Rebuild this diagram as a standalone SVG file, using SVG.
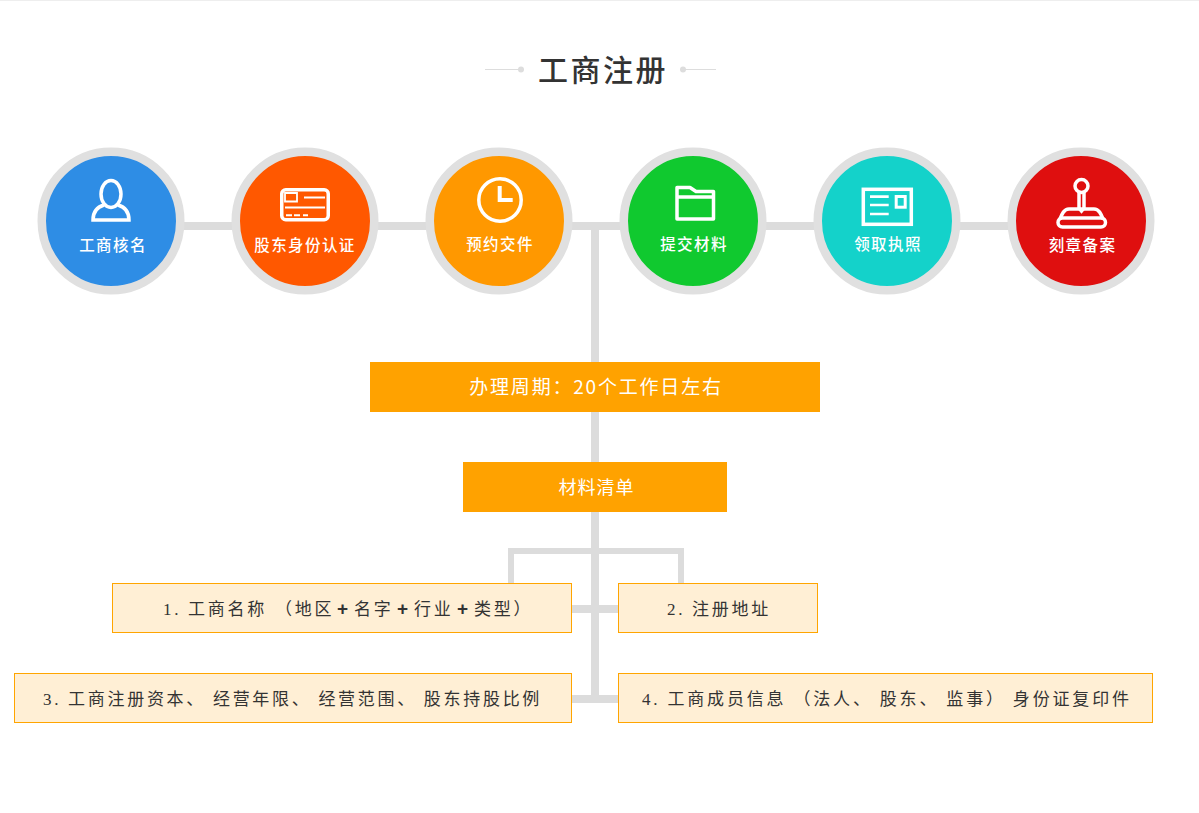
<svg xmlns="http://www.w3.org/2000/svg" width="1199" height="813" viewBox="0 0 1199 813">
<style>
text{font-family:"Noto Sans CJK SC","Liberation Sans",sans-serif}
.ring{stroke:#e0e0e0;stroke-width:8.500}
.conn{fill:#dcdcdc}
.lab{fill:#fff;font-size:15.500px;font-weight:500;letter-spacing:1.400px;text-anchor:middle}
.ic{fill:none;stroke:#fff;stroke-width:3.500}
.band{fill:#ffa200}
.bt{fill:#fff;font-size:19px;letter-spacing:1.800px;text-anchor:middle}
.item{fill:#ffefd5;stroke:#ffa500;stroke-width:1}
.it{fill:#333;font-size:17px;letter-spacing:2.700px;font-family:"Liberation Serif","Noto Sans CJK SC",serif}
.plus{font-family:"Liberation Sans",sans-serif;font-weight:700;font-size:19px}
</style>
<rect width="1199" height="1" fill="#eee"/>
<g id="title">
<path d="M485 69.500H519M681 69.500H716" stroke="#ddd" fill="none"/>
<circle cx="521" cy="69.500" r="3" fill="#ddd"/><circle cx="683" cy="69.500" r="3" fill="#ddd"/>
<text x="603" y="81" text-anchor="middle" font-size="30" font-weight="500" letter-spacing="2.500" fill="#333">工商注册</text>
</g>
<g id="connectors">
<rect class="conn" x="180" y="222" width="830" height="8"/>
<rect class="conn" x="591" y="222" width="8" height="481"/>
<path class="conn" d="M508 583V548H684V583H678V554H514V583Z"/>
<rect class="conn" x="572" y="605" width="46" height="8"/>
<rect class="conn" x="572" y="695" width="46" height="8"/>
</g>
<g id="n1"><circle class="ring" cx="111" cy="221" r="69.250" fill="#2e8de5"/>
<ellipse class="ic" cx="111" cy="194" rx="10" ry="13.500"/>
<path class="ic" d="M104 205C97 207 93 212 93 220H129C129 212 125 207 118 205"/>
<text class="lab" x="113" y="251">工商核名</text></g>
<g id="n2"><circle class="ring" cx="305" cy="221" r="69.250" fill="#ff5800"/>
<rect class="ic" x="281.750" y="189.750" width="46.500" height="30" rx="4"/>
<path d="M285 193H297V201.500H285ZM304 197.500H325M285 207.500H325" fill="none" stroke="#fff" stroke-width="1.800"/>
<path d="M286 215.300H292M294 215.300H300M303 215.300H308" fill="none" stroke="#fff" stroke-width="2"/>
<text class="lab" x="305" y="251">股东身份认证</text></g>
<g id="n3"><circle class="ring" cx="499" cy="221" r="69.250" fill="#ff9800"/>
<circle class="ic" cx="500" cy="200" r="21.200" stroke-width="4"/>
<path d="M499.700 186V200H512.700" fill="none" stroke="#fff" stroke-width="4"/>
<text class="lab" x="500" y="250">预约交件</text></g>
<g id="n4"><circle class="ring" cx="693" cy="221" r="69.250" fill="#10c92f"/>
<path class="ic" stroke-linejoin="round" d="M677 187.500H690L696 191.500H713.500V219H677ZM677 197H713.500" stroke-width="3"/>
<text class="lab" x="694" y="250">提交材料</text></g>
<g id="n5"><circle class="ring" cx="887" cy="221" r="69.250" fill="#14d2ca"/>
<rect class="ic" x="863.300" y="189.300" width="48" height="35" stroke-width="2.700"/>
<path d="M870 196.700H888.700M870 205H888.700M870 214H888.700" fill="none" stroke="#fff" stroke-width="2.700"/>
<rect x="896.200" y="196.500" width="9" height="10.700" fill="none" stroke="#fff" stroke-width="3"/>
<text class="lab" x="888" y="250">领取执照</text></g>
<g id="n6"><circle class="ring" cx="1081" cy="221" r="69.250" fill="#df0f0f"/>
<circle class="ic" cx="1081.500" cy="186" r="6.500" stroke-width="3"/>
<path class="ic" stroke-width="2.500" d="M1079 192V208L1081.500 211L1084 208V192"/>
<path class="ic" stroke-width="2.800" d="M1060 219C1062 214 1064 209 1069 209H1094C1099 209 1101 214 1103 219"/>
<rect class="ic" stroke-width="2.800" x="1058" y="218" width="47.500" height="9" rx="4.500"/>
<text class="lab" x="1082.500" y="251">刻章备案</text></g>
<g id="b1"><rect class="band" x="370" y="362" width="450" height="50"/><text class="bt" x="596" y="394">办理周期：20个工作日左右</text></g>
<g id="b2"><rect class="band" x="463" y="462" width="264" height="50"/><text class="bt" x="596.500" y="494" style="font-size:18px;letter-spacing:1px">材料清单</text></g>
<g id="i1"><rect class="item" x="112.500" y="583.500" width="459" height="49"/><text class="it" y="615"><tspan x="163">1. 工商名称</tspan><tspan x="275">（地区</tspan><tspan x="337" class="plus">+</tspan><tspan x="354">名字</tspan><tspan x="397" class="plus">+</tspan><tspan x="414">行业</tspan><tspan x="457" class="plus">+</tspan><tspan x="474">类型）</tspan></text></g>
<g id="i2"><rect class="item" x="618.500" y="583.500" width="199" height="49"/><text class="it" x="667" y="615">2. 注册地址</text></g>
<g id="i3"><rect class="item" x="14.500" y="673.500" width="557" height="49"/><text class="it" x="43" y="705">3. 工商注册资本、 经营年限、 经营范围、 股东持股比例</text></g>
<g id="i4"><rect class="item" x="618.500" y="673.500" width="534" height="49"/><text class="it" x="642" y="705" style="letter-spacing:2.820px">4. 工商成员信息 （法人、 股东、 监事） 身份证复印件</text></g>
</svg>
